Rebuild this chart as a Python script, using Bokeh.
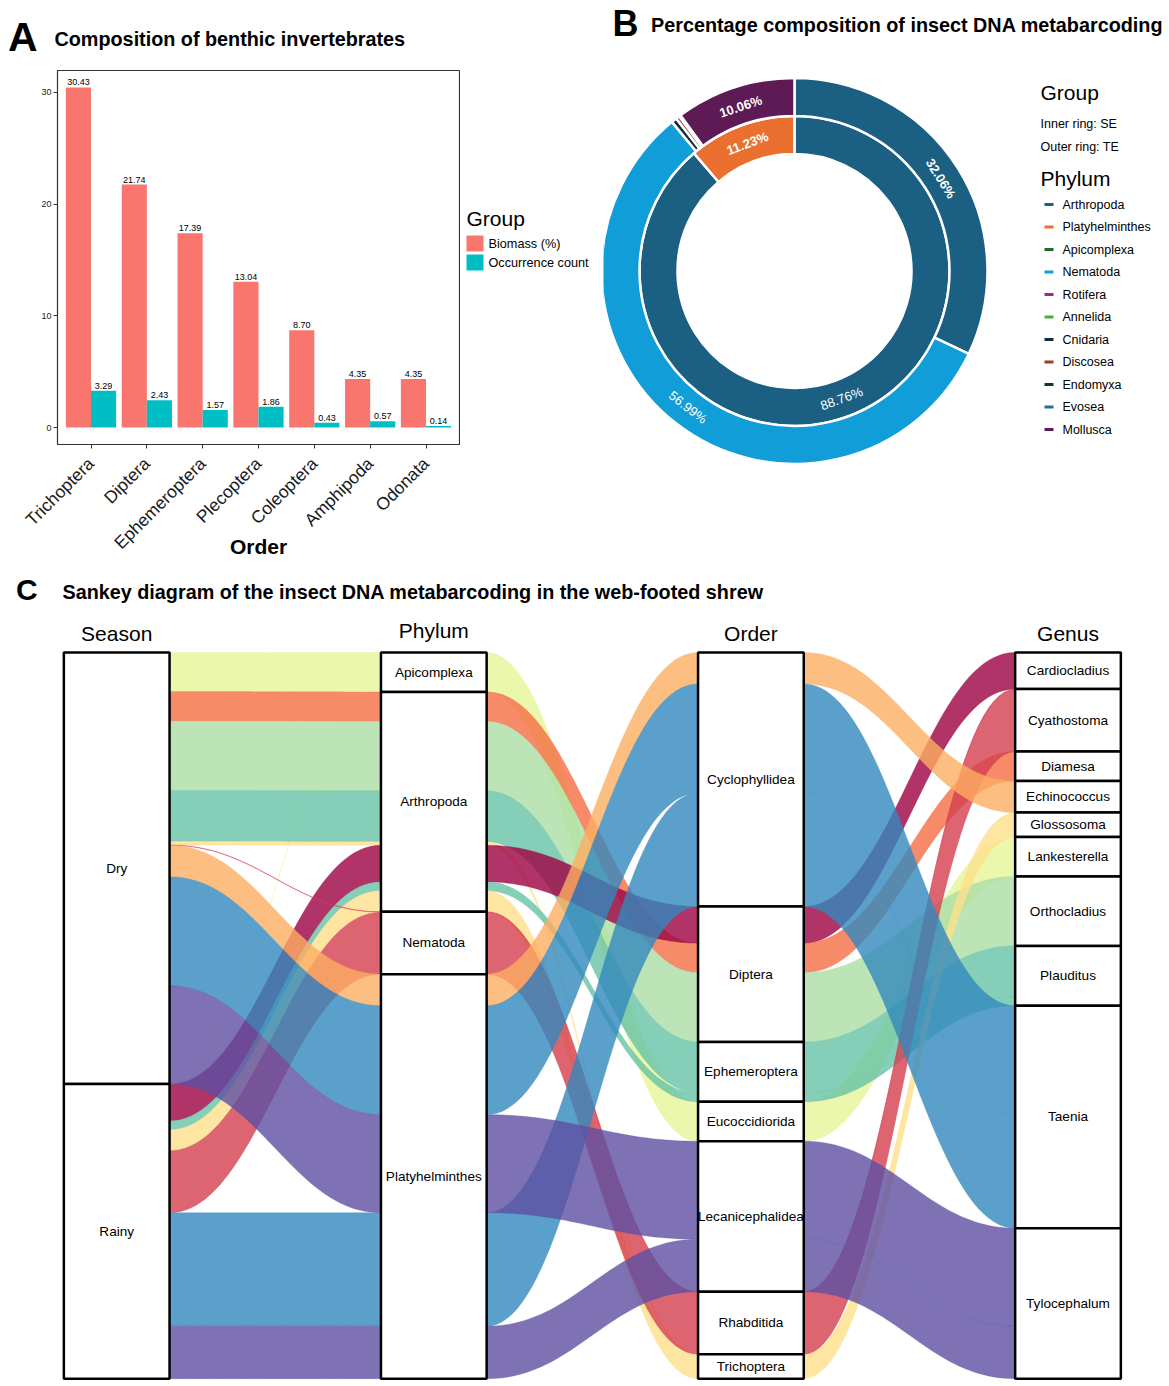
import math
import numpy as np
from bokeh.plotting import figure
from bokeh.models import Range1d, ColumnDataSource, FixedTicker
from bokeh.layouts import column, row
from bokeh.core.properties import value
from bokeh.embed import file_html
from bokeh.resources import INLINE

FONT = "Liberation Sans"

# ---------------- Panel A data ----------------
orders_a = ["Trichoptera", "Diptera", "Ephemeroptera", "Plecoptera",
            "Coleoptera", "Amphipoda", "Odonata"]
biomass = [30.43, 21.74, 17.39, 13.04, 8.70, 4.35, 4.35]
occurrence = [3.29, 2.43, 1.57, 1.86, 0.43, 0.57, 0.14]
group_names = ["Biomass (%)", "Occurrence count"]
group_colors = ["#F8766D", "#00BFC4"]

# ---------------- Panel B data ----------------
phyla_legend = ["Arthropoda", "Platyhelminthes", "Apicomplexa", "Nematoda",
                "Rotifera", "Annelida", "Cnidaria", "Discosea", "Endomyxa",
                "Evosea", "Mollusca"]
phyla_colors = ["#1B5F82", "#EA7030", "#1E6B2C", "#109DD8", "#A0249C",
                "#45B034", "#0E2C48", "#A33C1C", "#0F3A1C", "#2B6C92", "#5E1A55"]
inner_phyla = ["Arthropoda", "Platyhelminthes"]
inner_pct = [88.76, 11.23]
outer_phyla = ["Arthropoda", "Nematoda", "Cnidaria", "Discosea", "Evosea", "Mollusca"]
outer_pct = [32.06, 56.99, 0.45, 0.30, 0.14, 10.06]

# ---------------- Panel C data ----------------
genus_list = ["Cardiocladius", "Cyathostoma", "Diamesa", "Echinococcus",
              "Glossosoma", "Lankesterella", "Orthocladius", "Plauditus",
              "Taenia", "Tylocephalum"]
genus_order = ["Diptera", "Rhabditida", "Diptera", "Cyclophyllidea",
               "Trichoptera", "Eucoccidiorida", "Diptera", "Ephemeroptera",
               "Cyclophyllidea", "Lecanicephalidea"]
genus_phylum = ["Arthropoda", "Nematoda", "Arthropoda", "Platyhelminthes",
                "Arthropoda", "Apicomplexa", "Arthropoda", "Arthropoda",
                "Platyhelminthes", "Platyhelminthes"]
genus_colors = ["#9E0142", "#D53E4F", "#F46D43", "#FDAE61", "#FEE08B",
                "#E6F598", "#ABDDA4", "#66C2A5", "#3288BD", "#5E4FA2"]
alluvium_season = ["Dry", "Rainy", "Dry", "Dry", "Dry", "Dry", "Rainy", "Rainy",
                   "Rainy", "Dry", "Rainy", "Dry", "Dry", "Rainy", "Dry", "Rainy"]
alluvium_genus = ["Lankesterella", "Lankesterella", "Diamesa", "Orthocladius",
                  "Plauditus", "Glossosoma", "Cardiocladius", "Plauditus",
                  "Glossosoma", "Cyathostoma", "Cyathostoma", "Echinococcus",
                  "Taenia", "Taenia", "Tylocephalum", "Tylocephalum"]
alluvium_value = [39.0, 0.4, 29.5, 69.4, 51.0, 3.5, 36.6, 8.8,
                  21.0, 0.5, 62.0, 31.5, 109.0, 113.5, 98.0, 52.5]
axis_names = ["Season", "Phylum", "Order", "Genus"]


def canvas(width, height, xr, yr):
    p = figure(width=width, height=height, x_range=xr, y_range=yr,
               x_axis_type=None, y_axis_type=None, output_backend="svg",
               toolbar_location=None, min_border=0)
    p.frame_align = False
    p.outline_line_color = None
    p.background_fill_color = "white"
    p.border_fill_color = "white"
    return p


def txt(p, x, y, s, size, bold=False, align="left", baseline="middle",
        color="black", angle=0.0):
    p.text(x=[x], y=[y], text=[s], text_font=value(FONT),
           text_font_size=f"{size}px",
           text_font_style="bold" if bold else "normal",
           text_align=align, text_baseline=baseline, text_color=color,
           angle=angle)


# ---------------- Header (titles of A and B) ----------------
HEAD_H = 69
header = canvas(1169, HEAD_H, Range1d(0, 1169), Range1d(HEAD_H, 0))
txt(header, 7.5, 36.7, "A", 41, bold=True)
txt(header, 54, 38.3, "Composition of benthic invertebrates", 19.8, bold=True)
txt(header, 612, 22.5, "B", 36, bold=True)
txt(header, 650.5, 24.8, "Percentage composition of insect DNA metabarcoding", 19.8, bold=True)

# ---------------- Panel A ----------------
ROW_H = 503
x_pos = list(range(1, len(orders_a) + 1))
pA = figure(width=460, height=ROW_H, x_range=Range1d(0.4, 7.6),
            y_range=Range1d(-1.52, 31.95), output_backend="svg",
            toolbar_location=None, min_border_left=57, min_border_right=1,
            min_border_top=1, min_border_bottom=ROW_H - (444 - HEAD_H))
pA.frame_align = False
srcA = ColumnDataSource(dict(xb=[v - 0.225 for v in x_pos],
                             xo=[v + 0.225 for v in x_pos],
                             biomass=biomass, occ=occurrence,
                             blab=[f"{v:.2f}" for v in biomass],
                             olab=[f"{v:.2f}" for v in occurrence]))
pA.vbar(x="xb", top="biomass", bottom=0, width=0.45, source=srcA,
        fill_color=group_colors[0], line_color=None)
pA.vbar(x="xo", top="occ", bottom=0, width=0.45, source=srcA,
        fill_color=group_colors[1], line_color=None)
pA.text(x="xb", y="biomass", text="blab", source=srcA, y_offset=-2,
        text_align="center", text_baseline="bottom", text_font=value(FONT),
        text_font_size="9px", text_color="black")
pA.text(x="xo", y="occ", text="olab", source=srcA, y_offset=-2,
        text_align="center", text_baseline="bottom", text_font=value(FONT),
        text_font_size="9px", text_color="black")
pA.xgrid.visible = False
pA.ygrid.visible = False
pA.outline_line_color = "#333333"
pA.outline_line_width = 1.2
pA.yaxis.ticker = FixedTicker(ticks=[0, 10, 20, 30])
pA.yaxis.major_label_text_font_size = "9px"
pA.yaxis.major_label_standoff = 2
pA.xaxis.ticker = FixedTicker(ticks=x_pos)
pA.xaxis.major_label_overrides = {v: n for v, n in zip(x_pos, orders_a)}
pA.xaxis.major_label_orientation = math.pi / 4
pA.xaxis.major_label_text_font_size = "17.5px"
pA.xaxis.major_label_standoff = 12
pA.xaxis.axis_label = "Order"
pA.xaxis.axis_label_text_font_style = "bold"
pA.xaxis.axis_label_text_font_size = "21px"
pA.xaxis.axis_label_text_color = "black"
pA.xaxis.axis_label_standoff = -28
for ax in (pA.xaxis, pA.yaxis):
    ax.major_label_text_font = FONT
    ax.axis_label_text_font = FONT
    ax.major_label_text_color = "#1a1a1a"
    ax.axis_line_color = "#333333"
    ax.major_tick_line_color = "#333333"
    ax.major_tick_out = 4
    ax.major_tick_in = 0
    ax.minor_tick_out = 0
    ax.minor_tick_in = 0

# legend of A
Y0 = HEAD_H
Y1 = HEAD_H + ROW_H
legA = canvas(143, ROW_H, Range1d(460, 603), Range1d(Y1, Y0))
txt(legA, 466, 218, "Group", 21)
legA.quad(left=[466, 466], right=[483, 483], top=[235, 254], bottom=[251, 270],
          fill_color=group_colors, line_color=None)
for i, name in enumerate(group_names):
    txt(legA, 488, 243 + 19.5 * i, name, 12.7)

# ---------------- Panel B ----------------
pB = canvas(566, ROW_H, Range1d(603, 1169), Range1d(-Y1, -Y0))
cx, cy = 794.0, -270.5
col_of = dict(zip(phyla_legend, phyla_colors))


def ring(names, pcts, r_in, r_out):
    cum = np.concatenate([[0.0], np.cumsum(pcts)])
    th0 = cum[:-1] * 3.6
    th1 = cum[1:] * 3.6
    start = [math.radians(90 - b) for b in th1]
    end = [math.radians(90 - a) for a in th0]
    pB.annular_wedge(x=cx, y=cy, inner_radius=r_in, outer_radius=r_out,
                     start_angle=start, end_angle=end,
                     fill_color=[col_of[n] for n in names],
                     line_color="white", line_width=2.5)
    return (th0 + th1) / 2


mid_in = ring(inner_phyla, inner_pct, 117.0, 155.0)
mid_out = ring(outer_phyla, outer_pct, 155.0, 193.0)


def ring_label(theta, r, s, bold):
    rad = math.radians(theta)
    x = cx + r * math.sin(rad)
    y = cy + r * math.cos(rad)
    rot = (-theta + 180) % 360 - 180
    if rot < -90:
        rot += 180
    if rot > 90:
        rot -= 180
    txt(pB, x, y, s, 13, bold=bold, align="center", color="white",
        angle=math.radians(rot))


for th, pc in zip(mid_in, inner_pct):
    ring_label(th, 136, f"{pc:.2f}%", bold=(pc < 50))
for th, pc in zip(mid_out, outer_pct):
    if pc > 5:
        ring_label(th, 173, f"{pc:.2f}%", bold=(pc < 50))

txt(pB, 1040, -92, "Group", 21)
txt(pB, 1040, -123, "Inner ring: SE", 12.5)
txt(pB, 1040, -146, "Outer ring: TE", 12.5)
txt(pB, 1040, -178, "Phylum", 21)
ly = [-(204 + 22.5 * i) for i in range(len(phyla_legend))]
pB.segment(x0=[1044] * len(ly), x1=[1053] * len(ly), y0=ly, y1=ly,
           line_color=phyla_colors, line_width=3)
for name, yv in zip(phyla_legend, ly):
    txt(pB, 1062, yv, name, 12.5)

# ---------------- Panel C (alluvial) ----------------
g_ord = dict(zip(genus_list, genus_order))
g_phy = dict(zip(genus_list, genus_phylum))
g_col = dict(zip(genus_list, genus_colors))
records = []
for s, g, v in zip(alluvium_season, alluvium_genus, alluvium_value):
    records.append({"Season": s, "Phylum": g_phy[g], "Order": g_ord[g],
                    "Genus": g, "v": v})
sort_keys = {"Season": ["Phylum", "Order", "Genus"],
             "Phylum": ["Season", "Order", "Genus"],
             "Order": ["Genus", "Phylum", "Season"],
             "Genus": ["Order", "Phylum", "Season"]}
lode = {}
strata = {a: [] for a in axis_names}
for a in axis_names:
    levels = sorted(set(r[a] for r in records))
    pos = 0.0
    for lev in levels:
        mem = [i for i, r in enumerate(records) if r[a] == lev]
        mem.sort(key=lambda i: tuple(records[i][k] for k in sort_keys[a]))
        st = pos
        for i in mem:
            lode[(i, a)] = (pos, pos + records[i]["v"])
            pos += records[i]["v"]
        strata[a].append((lev, st, pos))

W = 1.0 / 3.0
tt = np.linspace(0, 1, 48)
xs, ys, cs = [], [], []


def bez(x0, y0, x1, y1, a=0.42):
    g = x1 - x0
    p0 = np.array([x0, y0]); p1 = np.array([x0 + a * g, y0])
    p2 = np.array([x1 - a * g, y1]); p3 = np.array([x1, y1])
    t = tt[:, None]
    pts = ((1 - t) ** 3) * p0 + 3 * ((1 - t) ** 2) * t * p1 + 3 * (1 - t) * t * t * p2 + (t ** 3) * p3
    return pts[:, 0], pts[:, 1]


for i, r in enumerate(records):
    for k in range(3):
        x0 = (k + 1) + W / 2
        x1 = (k + 2) - W / 2
        t0, b0 = lode[(i, axis_names[k])]
        t1, b1 = lode[(i, axis_names[k + 1])]
        tx, ty = bez(x0, t0, x1, t1)
        bx, by = bez(x0, b0, x1, b1)
        xs.append(list(tx) + list(bx[::-1]))
        ys.append(list(ty) + list(by[::-1]))
        cs.append(g_col[r["Genus"]])

C_TOP = Y1
C_H = 810
PX_PER_AXIS = 317.1
AX1_PX = 116.2
STRATA_TOP_PX = 652.0


def xdata(px):
    return 1 + (px - AX1_PX) / PX_PER_AXIS


pC = canvas(1169, C_H, Range1d(xdata(0), xdata(1169)),
            Range1d(C_TOP + C_H - STRATA_TOP_PX, C_TOP - STRATA_TOP_PX))
pC.patches(xs="xs", ys="ys", source=ColumnDataSource(dict(xs=xs, ys=ys, c=cs)),
           fill_color="c", fill_alpha=0.8, line_color="c", line_alpha=0.5,
           line_width=0.6)
for k, a in enumerate(axis_names):
    xk = k + 1
    lefts = [xk - W / 2] * len(strata[a])
    rights = [xk + W / 2] * len(strata[a])
    tops = [s[1] for s in strata[a]]
    bots = [s[2] for s in strata[a]]
    pC.quad(left=lefts, right=rights, top=tops, bottom=bots,
            fill_color="white", line_color="black", line_width=2.5)
    pC.text(x=[xk] * len(strata[a]), y=[(s[1] + s[2]) / 2 for s in strata[a]],
            text=[s[0] for s in strata[a]], text_font=value(FONT),
            text_font_size="13.6px", text_align="center",
            text_baseline="middle", text_color="black")
    txt(pC, xk, -19.5 if a != "Phylum" else -22, a, 21, align="center")

txt(pC, xdata(15.5), -63, "C", 30, bold=True)
txt(pC, xdata(62), -61, "Sankey diagram of the insect DNA metabarcoding in the web-footed shrew", 19.8, bold=True)

layout = column(header, row(pA, legA, pB), pC)
open("out.html", "w").write(file_html(layout, INLINE))
